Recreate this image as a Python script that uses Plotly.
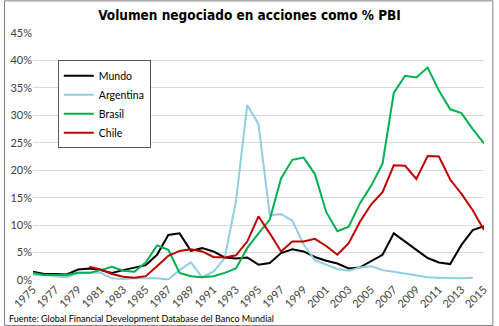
import plotly.graph_objects as go

years = [str(y) for y in range(1975, 2016)]
tick_years = [str(y) for y in range(1975, 2016, 2)]

mundo = [1.5, 1.1, 1.1, 1.0, 1.9, 2.1, 1.8, 1.3, 1.8, 2.3, 2.7, 4.6, 8.2, 8.5, 5.3, 5.8, 5.2, 4.1, 3.9, 4.1,
         2.8, 3.1, 4.9, 5.6, 5.2, 4.2, 3.5, 3.0, 2.1, 2.3, 3.5, 4.6, 8.5, 7.0, 5.5, 4.0, 3.2, 2.9, 6.4, 9.1, 9.8]
argentina = [0.9, 0.9, 0.7, 0.5, 1.3, 1.3, 1.3, 0.3, 0.2, 0.3, 0.3, 0.3, 0.1, 1.8, 3.2, 0.5, 1.5, 4.0, 14.3, 31.9,
             28.4, 11.8, 12.0, 10.8, 6.5, 3.6, 2.8, 2.0, 1.7, 2.3, 2.5, 1.8, 1.5, 1.2, 0.9, 0.5, 0.4, 0.3, 0.3, 0.4, None]
brasil = [1.3, 0.9, 0.9, 0.9, 1.3, 1.3, 1.8, 2.4, 1.7, 1.5, 3.2, 6.3, 5.5, 1.3, 0.7, 0.5, 0.7, 1.3, 2.1, 5.8,
          8.5, 11.0, 18.5, 21.9, 22.3, 19.3, 12.4, 8.9, 9.7, 14.0, 17.2, 21.2, 34.1, 37.2, 36.9, 38.7, 34.5, 31.1, 30.4, 27.5, 24.9]
chile = [None, None, None, None, None, 2.4, 1.9, 1.1, 0.6, 0.4, 0.7, 2.5, 4.4, 5.3, 5.6, 5.2, 4.2, 4.1, 4.5, 7.0,
         11.6, 8.5, 5.2, 7.0, 7.0, 7.5, 6.2, 4.6, 6.7, 10.6, 13.8, 16.0, 20.9, 20.8, 18.4, 22.6, 22.5, 18.3, 15.7, 12.7, 9.1]
y_ticks = [0, 5, 10, 15, 20, 25, 30, 35, 40, 45]
y_tick_labels = [f"{v}%" for v in y_ticks]

series = [("Mundo", mundo, "#000000"), ("Argentina", argentina, "#8ECFE2"),
          ("Brasil", brasil, "#00B050"), ("Chile", chile, "#C00000")]

fig = go.Figure()
for name, vals, col in series:
    fig.add_trace(go.Scatter(x=years, y=vals, name=name, mode="lines",
                             line=dict(color=col, width=2), connectgaps=False))

font_family = "Lato, Open Sans, Liberation Sans, sans-serif"
fig.update_layout(
    width=499, height=326,
    margin=dict(l=30, r=10, t=33, b=46),
    paper_bgcolor="white", plot_bgcolor="white",
    font=dict(family=font_family, size=11, color="#404040"),
    title=dict(text="<b>Volumen negociado en acciones como % PBI</b>",
               font=dict(family="DejaVu Sans Condensed, sans-serif", size=13.5, color="#000000"),
               x=0.5, xanchor="center", y=0.952, yanchor="middle"),
    showlegend=True,
    legend=dict(x=0.055, y=0.89, xanchor="left", yanchor="top",
                bordercolor="#595959", borderwidth=1, bgcolor="white",
                font=dict(family=font_family, size=10.5, color="#000000"),
                tracegroupgap=0, itemwidth=30),
    xaxis=dict(type="category", categoryorder="array", categoryarray=years,
               tickmode="array", tickvals=tick_years, ticktext=tick_years,
               tickangle=-45, showgrid=False, showline=False, ticks="",
               tickfont=dict(size=11, color="#404040")),
    yaxis=dict(range=[0, 45], tickvals=y_ticks, ticktext=y_tick_labels,
               showgrid=True, gridcolor="#D9D9D9", gridwidth=1, zeroline=False,
               showline=False, ticks="", tickfont=dict(size=11, color="#404040")),
    annotations=[dict(text="Fuente: Global Financial Development Database del Banco Mundial",
                      xref="paper", yref="paper", x=-0.058, y=-0.155, xanchor="left", yanchor="middle",
                      showarrow=False, font=dict(family=font_family, size=9, color="#000000"))],
    shapes=[dict(type="rect", xref="paper", yref="paper", x0=-0.0632, x1=1.0196, y0=-0.1840, y1=1.13,
                 line=dict(color="#808080", width=1), fillcolor="rgba(0,0,0,0)")],
)

fig.write_html("out.html")
